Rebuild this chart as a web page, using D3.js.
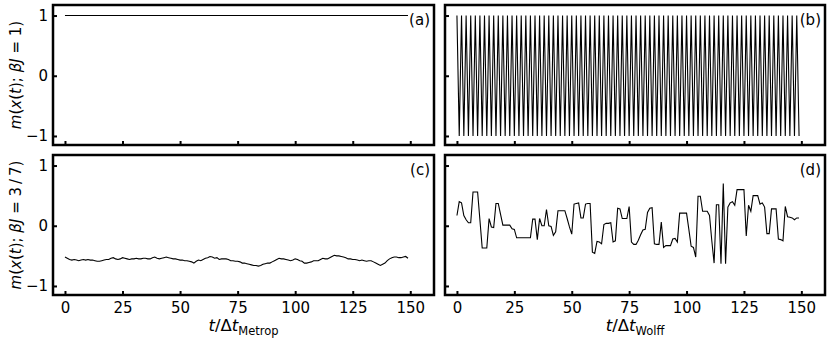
<!DOCTYPE html>
<html>
<head>
<meta charset="utf-8">
<script src="https://cdn.jsdelivr.net/npm/d3@7"></script>
<style>
  body { margin: 0; background: #fff; }
  svg { display: block; font-family: "DejaVu Sans", sans-serif; }
</style>
</head>
<body>
<div id="chart"></div>
<script>
// magnetisation m(x(t)) per step, t = 0..149
var xTicks = [0, 25, 50, 75, 100, 125, 150];
var yTicks = [-1, 0, 1];
var panelTags = ["(a)", "(b)", "(c)", "(d)"];

// (a) Metropolis, beta J = 1 : stays at +1
var metropCold = [
  1, 1, 1, 1, 1, 1, 1, 1, 1, 1, 1, 1, 1, 1, 1, 1, 1, 1, 1, 1, 1, 1, 1, 1, 1, 1, 1, 1, 1, 1,
  1, 1, 1, 1, 1, 1, 1, 1, 1, 1, 1, 1, 1, 1, 1, 1, 1, 1, 1, 1, 1, 1, 1, 1, 1, 1, 1, 1, 1, 1,
  1, 1, 1, 1, 1, 1, 1, 1, 1, 1, 1, 1, 1, 1, 1, 1, 1, 1, 1, 1, 1, 1, 1, 1, 1, 1, 1, 1, 1, 1,
  1, 1, 1, 1, 1, 1, 1, 1, 1, 1, 1, 1, 1, 1, 1, 1, 1, 1, 1, 1, 1, 1, 1, 1, 1, 1, 1, 1, 1, 1,
  1, 1, 1, 1, 1, 1, 1, 1, 1, 1, 1, 1, 1, 1, 1, 1, 1, 1, 1, 1, 1, 1, 1, 1, 1, 1, 1, 1, 1, 1
];

// (b) Wolff, beta J = 1 : flips every step
var wolffCold = [
  1, -1, 1, -1, 1, -1, 1, -1, 1, -1, 1, -1, 1, -1, 1, -1, 1, -1, 1, -1,
  1, -1, 1, -1, 1, -1, 1, -1, 1, -1, 1, -1, 1, -1, 1, -1, 1, -1, 1, -1,
  1, -1, 1, -1, 1, -1, 1, -1, 1, -1, 1, -1, 1, -1, 1, -1, 1, -1, 1, -1,
  1, -1, 1, -1, 1, -1, 1, -1, 1, -1, 1, -1, 1, -1, 1, -1, 1, -1, 1, -1,
  1, -1, 1, -1, 1, -1, 1, -1, 1, -1, 1, -1, 1, -1, 1, -1, 1, -1, 1, -1,
  1, -1, 1, -1, 1, -1, 1, -1, 1, -1, 1, -1, 1, -1, 1, -1, 1, -1, 1, -1,
  1, -1, 1, -1, 1, -1, 1, -1, 1, -1, 1, -1, 1, -1, 1, -1, 1, -1, 1, -1,
  1, -1, 1, -1, 1, -1, 1, -1, 1, -1
];

// (c) Metropolis, beta J = 3/7
var metropWarm = [
  -0.52, -0.54, -0.56, -0.57, -0.56, -0.57, -0.58, -0.57, -0.56, -0.57,
  -0.56, -0.57, -0.57, -0.58, -0.59, -0.59, -0.58, -0.57, -0.56, -0.56,
  -0.54, -0.53, -0.55, -0.56, -0.55, -0.53, -0.54, -0.55, -0.56, -0.55,
  -0.55, -0.54, -0.55, -0.55, -0.54, -0.54, -0.55, -0.55, -0.53, -0.52,
  -0.54, -0.55, -0.54, -0.53, -0.52, -0.53, -0.54, -0.55, -0.55, -0.56,
  -0.57, -0.57, -0.58, -0.58, -0.59, -0.60, -0.62, -0.59, -0.57, -0.58,
  -0.56, -0.54, -0.53, -0.51, -0.52, -0.54, -0.53, -0.56, -0.55, -0.55,
  -0.55, -0.56, -0.58, -0.58, -0.59, -0.59, -0.60, -0.62, -0.62, -0.63,
  -0.64, -0.65, -0.66, -0.66, -0.67, -0.66, -0.64, -0.63, -0.62, -0.62,
  -0.60, -0.58, -0.56, -0.54, -0.55, -0.55, -0.56, -0.57, -0.58, -0.57,
  -0.55, -0.56, -0.58, -0.59, -0.62, -0.62, -0.61, -0.60, -0.58, -0.58,
  -0.58, -0.56, -0.54, -0.55, -0.55, -0.53, -0.51, -0.49, -0.50, -0.50,
  -0.51, -0.52, -0.53, -0.55, -0.55, -0.56, -0.56, -0.57, -0.58, -0.57,
  -0.58, -0.59, -0.58, -0.58, -0.60, -0.62, -0.64, -0.66, -0.64, -0.62,
  -0.58, -0.55, -0.53, -0.52, -0.52, -0.53, -0.53, -0.52, -0.51, -0.54
];

// (d) Wolff, beta J = 3/7
var wolffWarm = [
  0.17, 0.40, 0.38, 0.17, 0.10, 0.05, 0.05, 0.56, 0.56, 0.56,
  0.10, -0.37, -0.37, -0.37, 0.12, -0.02, -0.03, 0.37, 0.37, 0.19,
  0.01, 0.01, 0.01, 0.01, -0.05, -0.06, -0.20, -0.20, -0.20, -0.20,
  -0.20, -0.20, -0.20, 0.11, 0.11, -0.23, 0.12, 0.00, 0.00, 0.27,
  0.00, -0.01, -0.16, -0.10, 0.25, 0.25, 0.25, 0.25, 0.12, -0.02,
  -0.14, 0.36, 0.37, 0.38, 0.13, 0.13, 0.36, 0.37, 0.37, -0.44,
  -0.46, -0.26, -0.27, -0.30, 0.02, 0.04, 0.04, 0.05, -0.27, -0.25,
  0.29, 0.28, 0.12, 0.12, 0.12, 0.32, -0.27, -0.31, -0.31, -0.24,
  -0.15, -0.07, -0.06, 0.22, 0.29, 0.30, -0.30, -0.31, -0.31, 0.06,
  -0.36, -0.33, -0.33, -0.33, -0.22, -0.21, -0.27, 0.21, 0.21, 0.21,
  0.21, -0.06, -0.34, -0.36, -0.52, 0.49, 0.49, 0.24, 0.24, 0.24,
  0.17, -0.25, -0.62, 0.35, 0.35, -0.63, 0.70, -0.63, 0.31, 0.38,
  0.40, 0.34, 0.60, 0.60, 0.60, 0.60, -0.17, 0.34, 0.24, 0.50,
  0.50, 0.50, 0.36, 0.38, 0.31, -0.13, -0.13, 0.28, 0.28, 0.28,
  -0.22, -0.23, -0.25, 0.32, 0.15, 0.14, 0.13, 0.10, 0.13, 0.13
];

var width = 831,
    height = 343;

var svg = d3.select("#chart")
    .append("svg")
    .attr("width", width)
    .attr("height", height);

// frame boxes of the four axes
var cols = [[53, 434], [445, 825]];
var rows = [[5, 145], [155, 295]];

var panels = [
  { data: metropCold, col: 0, row: 0 },
  { data: wolffCold, col: 1, row: 0 },
  { data: metropWarm, col: 0, row: 1 },
  { data: wolffWarm, col: 1, row: 1 }
];

panels.forEach(function (p, i) {
  var x = d3.scaleLinear().domain([-5.2, 160.3]).range(cols[p.col]);
  var y = d3.scaleLinear().domain([-1.15, 1.175]).range([rows[p.row][1], rows[p.row][0]]);
  var g = svg.append("g");

  var line = d3.line()
      .x(function (d, t) { return x(t); })
      .y(function (d) { return y(d); });

  g.append("path")
      .datum(p.data)
      .attr("d", line)
      .attr("fill", "none")
      .attr("stroke", "#000")
      .attr("stroke-width", 1.1);

  var xAxis = d3.axisBottom(x)
      .tickValues(xTicks)
      .tickSize(-4)
      .tickPadding(7)
      .tickFormat(p.row == 1 ? d3.format("d") : "");
  var yAxis = d3.axisLeft(y)
      .tickValues(yTicks)
      .tickSize(-4)
      .tickPadding(5)
      .tickFormat(p.col == 0 ? d3.format("d") : "");

  var gx = g.append("g")
      .attr("transform", "translate(0," + rows[p.row][1] + ")")
      .call(xAxis);
  var gy = g.append("g")
      .attr("transform", "translate(" + cols[p.col][0] + ",0)")
      .call(yAxis);

  [gx, gy].forEach(function (a) {
    a.select(".domain").remove();
    a.selectAll(".tick line").attr("stroke", "#000").attr("stroke-width", 2);
    a.selectAll(".tick text")
        .attr("font-family", "DejaVu Sans")
        .attr("font-size", 15)
        .attr("fill", "#000");
  });

  g.append("rect")
      .attr("x", cols[p.col][0])
      .attr("y", rows[p.row][0])
      .attr("width", cols[p.col][1] - cols[p.col][0])
      .attr("height", rows[p.row][1] - rows[p.row][0])
      .attr("fill", "none")
      .attr("stroke", "#000")
      .attr("stroke-width", 2.5);

  g.append("text")
      .attr("x", cols[p.col][1] - 4)
      .attr("y", rows[p.row][0] + 20)
      .attr("text-anchor", "end")
      .attr("font-size", 15)
      .text(panelTags[i]);
});

// y axis labels
var yLabels = ["1", "3\u2009/\u20097"];
yLabels.forEach(function (v, r) {
  var t = svg.append("text")
      .attr("transform", "translate(21," + (rows[r][0] + rows[r][1]) / 2 + ") rotate(-90)")
      .attr("text-anchor", "middle")
      .attr("font-size", 15);
  t.append("tspan").attr("font-style", "italic").text("m");
  t.append("tspan").text("(");
  t.append("tspan").attr("font-style", "italic").text("x");
  t.append("tspan").text("(");
  t.append("tspan").attr("font-style", "italic").text("t");
  t.append("tspan").text("); ");
  t.append("tspan").attr("font-style", "italic").text("\u03b2J");
  t.append("tspan").text(" = " + v + ")");
});

// x axis labels
var xSubs = ["Metrop", "Wolff"];
xSubs.forEach(function (s, c) {
  var t = svg.append("text")
      .attr("x", (cols[c][0] + cols[c][1]) / 2)
      .attr("y", 331)
      .attr("text-anchor", "middle")
      .attr("font-size", 16.5);
  t.append("tspan").attr("font-style", "italic").text("t");
  t.append("tspan").text("/\u0394");
  t.append("tspan").attr("font-style", "italic").text("t");
  t.append("tspan").attr("dy", 3.5).attr("font-size", 11.5).text(s);
});
</script>
</body>
</html>
